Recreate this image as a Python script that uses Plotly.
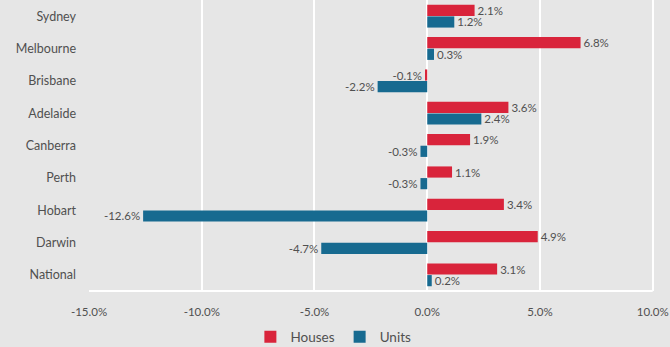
import plotly.graph_objects as go

cities = ["Sydney", "Melbourne", "Brisbane", "Adelaide", "Canberra",
          "Perth", "Hobart", "Darwin", "National"]
houses = [2.1, 6.8, -0.1, 3.6, 1.9, 1.1, 3.4, 4.9, 3.1]
units = [1.2, 0.3, -2.2, 2.4, -0.3, -0.3, -12.6, -4.7, 0.2]
tick_vals = [-15, -10, -5, 0, 5, 10]
tick_text = ["-15.0%", "-10.0%", "-5.0%", "0.0%", "5.0%", "10.0%"]

FONT = "Lato, 'Open Sans', sans-serif"
BG = "#e6e6e6"
TXT = "#505050"

fig = go.Figure()
fig.add_trace(go.Bar(
    y=cities, x=houses, name="Houses", orientation="h",
    marker=dict(color="#d9243b", line=dict(width=0)),
    text=[f"{v:.1f}%" for v in houses], textposition="outside",
    textfont=dict(size=11.5, color=TXT, family=FONT),
    cliponaxis=False,
))
fig.add_trace(go.Bar(
    y=cities, x=units, name="Units", orientation="h",
    marker=dict(color="#176a90", line=dict(width=0)),
    text=[f"{v:.1f}%" for v in units], textposition="outside",
    textfont=dict(size=11.5, color=TXT, family=FONT),
    cliponaxis=False,
))

fig.update_layout(
    width=670, height=347,
    barmode="group", bargap=0.28, bargroupgap=0.04,
    paper_bgcolor=BG, plot_bgcolor=BG,
    margin=dict(l=89, r=6, t=0, b=56, autoexpand=False),
    font=dict(family=FONT, size=12, color=TXT),
    showlegend=True,
    legend=dict(orientation="h", x=0.425, xanchor="center",
                yref="container", y=0.029, yanchor="middle",
                font=dict(size=13.5, color=TXT),
                itemwidth=30, traceorder="normal"),
    uniformtext=dict(minsize=11, mode="show"),
)
fig.update_xaxes(
    range=[-15, 10.5], tickvals=tick_vals, ticktext=tick_text,
    showgrid=True, gridcolor="#ffffff", gridwidth=2,
    zeroline=True, zerolinecolor="#ffffff", zerolinewidth=2,
    showline=False, ticks="", ticklabelstandoff=12,
    ticklabeloverflow="allow",
    tickfont=dict(size=11.5, color=TXT), automargin=False,
)
fig.update_yaxes(
    autorange="reversed", showgrid=False, zeroline=False,
    ticks="", ticklabelstandoff=12, automargin=False,
    tickfont=dict(size=12.5, color=TXT),
)
fig.add_shape(type="line", xref="x", yref="paper", x0=-15, x1=10, y0=0, y1=0,
              line=dict(color="#ffffff", width=2))

fig.write_html("out.html")
